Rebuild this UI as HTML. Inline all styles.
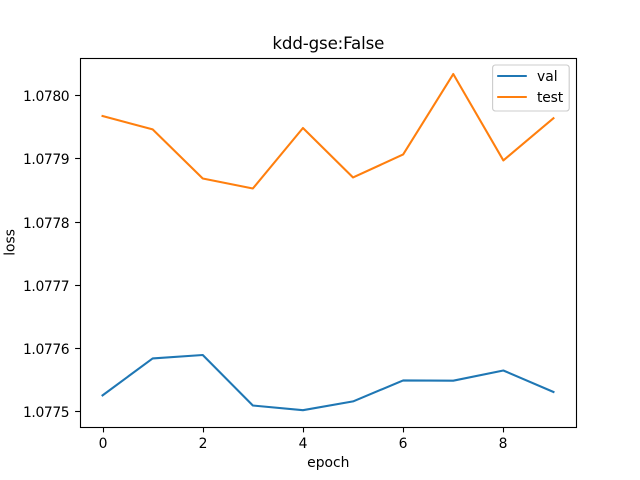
<!DOCTYPE html>
<html>
<head>
<meta charset="utf-8">
<title>kdd-gse:False</title>
<style>
html,body{margin:0;padding:0;background:#fff;width:640px;height:480px;overflow:hidden}
svg{display:block}
text{font-family:"DejaVu Sans","Liberation Sans",sans-serif;fill:#000}
</style>
</head>
<body>
<svg id="chart" width="640" height="480" viewBox="0 0 640 480" xmlns="http://www.w3.org/2000/svg">
<rect x="0" y="0" width="640" height="480" fill="#fff"/>
<rect x="80" y="57.6" width="496" height="369.6" fill="#fff"/>
<g id="marks"></g>
<g id="ticks"></g>
<rect x="80.5" y="58.5" width="496" height="369" fill="none" stroke="#000" stroke-width="1.11"/>
<text x="328.4" y="49" font-size="16.67" text-anchor="middle" textLength="112" lengthAdjust="spacing">kdd-gse:False</text>
<text x="328.3" y="467" font-size="13.89" text-anchor="middle">epoch</text>
<text transform="translate(14.5,242.4) rotate(-90)" font-size="13.89" text-anchor="middle">loss</text>
<g>
<rect x="492.6" y="65" width="76.6" height="46" rx="2.8" ry="2.8" fill="#fff" fill-opacity="0.8" stroke="#ccc" stroke-width="1.11"/>
<line x1="497.2" y1="76" x2="526.8" y2="76" stroke="#1f77b4" stroke-width="2.08"/>
<text x="537" y="81" font-size="13.89">val</text>
<line x1="497.2" y1="97" x2="526.8" y2="97" stroke="#ff7f0e" stroke-width="2.08"/>
<text x="537" y="102" font-size="13.89" textLength="26.2" lengthAdjust="spacing">test</text>
</g>
</svg>
<script>
const epochs = [0, 1, 2, 3, 4, 5, 6, 7, 8, 9];
const valLoss = [1.0775258, 1.0775843, 1.0775897, 1.0775098, 1.0775024, 1.0775163, 1.0775495, 1.0775491, 1.0775652, 1.0775312];
const testLoss = [1.0779679, 1.0779467, 1.0778690, 1.0778532, 1.0779489, 1.0778706, 1.0779070, 1.0780343, 1.0778976, 1.0779644];
const xTickValues = [0, 2, 4, 6, 8];
const yTickValues = [1.0775, 1.0776, 1.0777, 1.0778, 1.0779, 1.0780];
const yTickLabels = ["1.0775", "1.0776", "1.0777", "1.0778", "1.0779", "1.0780"];

const NS = "http://www.w3.org/2000/svg";
function xScale(v) { return 102.55 + (v - 0) * 50.101; }
function yScale(v) { return 411.7 - (v - 1.0775) * 632000; }

const marks = document.getElementById("marks");
const ticks = document.getElementById("ticks");

function drawSeries(values, color, name) {
  const line = document.createElementNS(NS, "polyline");
  
  
  line.setAttribute("points", values.map(function (v, i) { return xScale(epochs[i]).toFixed(2) + "," + yScale(v).toFixed(2); }).join(" "));
  line.setAttribute("fill", "none");
  line.setAttribute("stroke", color);
  line.setAttribute("stroke-width", "2.08");
  line.setAttribute("stroke-linecap", "square");
  line.setAttribute("stroke-linejoin", "round");
  marks.appendChild(line);
}
drawSeries(valLoss, "#1f77b4", "val-line");
drawSeries(testLoss, "#ff7f0e", "test-line");

xTickValues.forEach(function (v) {
  const x = Math.floor(xScale(v) + 0.5) + 0.5;
  const mark = document.createElementNS(NS, "line");
  
  
  mark.setAttribute("x1", x);
  mark.setAttribute("x2", x);
  mark.setAttribute("y1", 427.5);
  mark.setAttribute("y2", 432.4);
  mark.setAttribute("stroke", "#000");
  mark.setAttribute("stroke-width", "1.11");
  ticks.appendChild(mark);
  const label = document.createElementNS(NS, "text");
  
  
  label.setAttribute("x", x - 0.4);
  label.setAttribute("y", 448);
  label.setAttribute("font-size", "13.89");
  label.setAttribute("text-anchor", "middle");
  label.textContent = String(v);
  ticks.appendChild(label);
});

yTickValues.forEach(function (v, i) {
  const y = Math.floor(yScale(v)) + 0.5;
  const mark = document.createElementNS(NS, "line");
  
  
  mark.setAttribute("x1", 75.1);
  mark.setAttribute("x2", 80.5);
  mark.setAttribute("y1", y);
  mark.setAttribute("y2", y);
  mark.setAttribute("stroke", "#000");
  mark.setAttribute("stroke-width", "1.11");
  ticks.appendChild(mark);
  const label = document.createElementNS(NS, "text");
  
  
  label.setAttribute("x", 69.6);
  label.setAttribute("y", y + 5.5);
  label.setAttribute("font-size", "13.89");
  label.setAttribute("text-anchor", "end");
  label.setAttribute("textLength", "46.6");
  label.setAttribute("lengthAdjust", "spacing");
  label.textContent = yTickLabels[i];
  ticks.appendChild(label);
});
</script>
</body>
</html>
